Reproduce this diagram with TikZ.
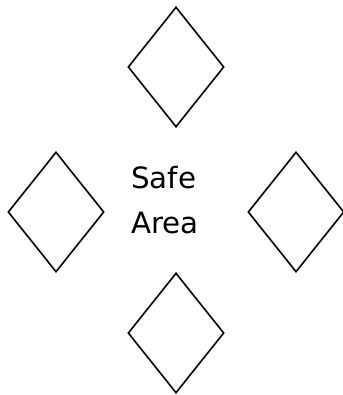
\documentclass[tikz,border=0pt]{standalone}
\usepackage{fontspec}
\setmainfont{DejaVu Sans}
\usetikzlibrary{shapes.geometric}
\tikzset{
  gem/.style={draw=black,shape=diamond,line width=1.2pt,inner sep=0pt,
    minimum width=72pt,minimum height=90pt},
  zone/.style={align=left,font=\fontsize{22pt}{34pt}\selectfont,inner sep=0pt}
}
\begin{document}
\begin{tikzpicture}[x=0.75pt,y=-0.75pt]
\useasboundingbox (0,0) rectangle (342,395);
% diamonds
\node[gem] (north) at (176,67) {};
\node[gem] (west) at (56,212) {};
\node[gem] (east) at (296,212) {};
\node[gem] (south) at (176,333) {};
% label
\node[zone] (safe) at (165,200) {Safe\\Area};
\end{tikzpicture}
\end{document}
